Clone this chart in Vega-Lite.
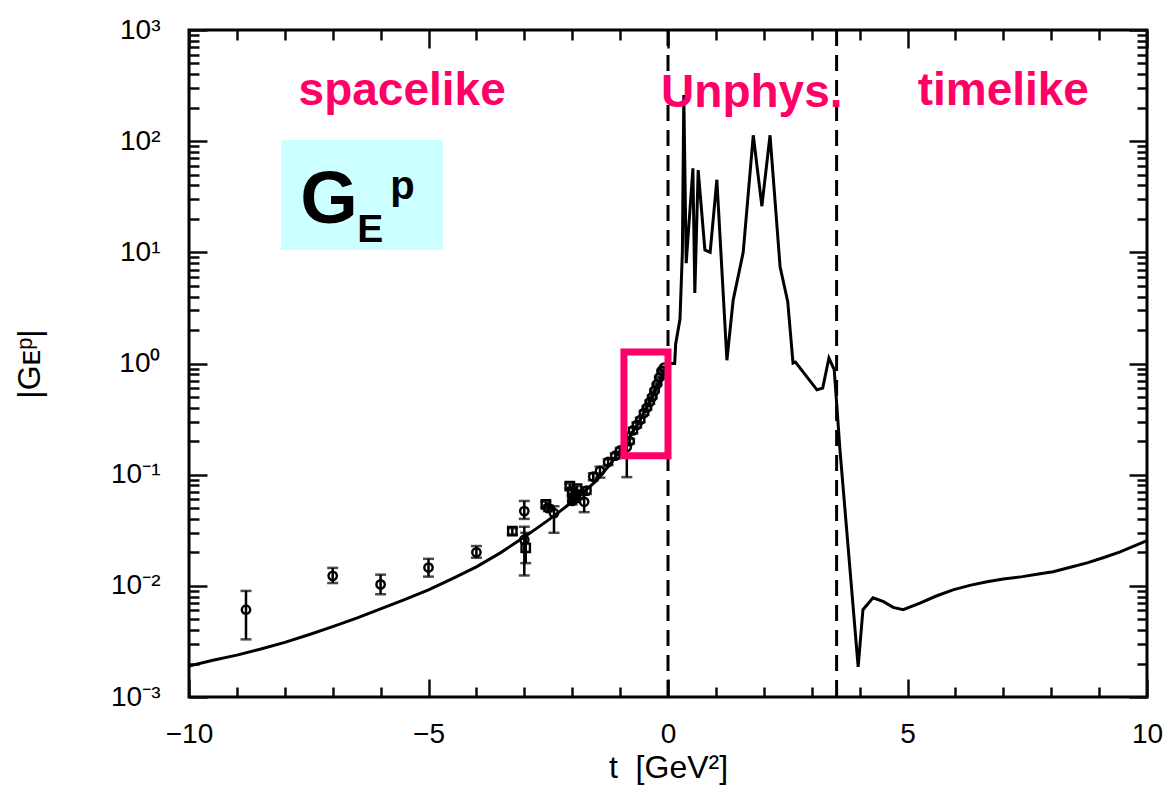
{
  "$schema": "https://vega.github.io/schema/vega-lite/v6.json",
  "autosize": "none",
  "width": 958,
  "height": 667,
  "padding": {"left": 189, "top": 30, "right": 24, "bottom": 91},
  "background": "white",
  "config": {
    "view": {"stroke": "black", "strokeWidth": 3},
    "font": "Liberation Sans",
    "axis": {
      "grid": false,
      "domain": false,
      "tickWidth": 2.5,
      "labelFlush": false,
      "labelOverlap": false,
      "labelColor": "black",
      "labelFont": "Liberation Sans",
      "labelFontSize": 28,
      "titleFont": "Liberation Sans",
      "titleFontWeight": "normal",
      "titleColor": "black"
    }
  },
  "datasets": {
    "curve": [
      {"t": -10, "v": 0.0019}, {"t": -9.5, "v": 0.00214}, {"t": -9, "v": 0.00238}, {"t": -8.5, "v": 0.0027},
      {"t": -8, "v": 0.0031}, {"t": -7.5, "v": 0.00363}, {"t": -7, "v": 0.0043}, {"t": -6.5, "v": 0.00513},
      {"t": -6, "v": 0.0062}, {"t": -5.5, "v": 0.0075}, {"t": -5, "v": 0.0092}, {"t": -4.5, "v": 0.0116},
      {"t": -4, "v": 0.0148}, {"t": -3.5, "v": 0.0198}, {"t": -3, "v": 0.0275}, {"t": -2.75, "v": 0.0327},
      {"t": -2.5, "v": 0.039}, {"t": -2.25, "v": 0.047}, {"t": -2, "v": 0.057}, {"t": -1.75, "v": 0.0703},
      {"t": -1.5, "v": 0.088}, {"t": -1.35, "v": 0.105}, {"t": -1.2, "v": 0.125}, {"t": -1, "v": 0.165},
      {"t": -0.9, "v": 0.19}, {"t": -0.8, "v": 0.22}, {"t": -0.7, "v": 0.257}, {"t": -0.6, "v": 0.30},
      {"t": -0.5, "v": 0.363}, {"t": -0.4, "v": 0.44}, {"t": -0.3, "v": 0.537}, {"t": -0.2, "v": 0.65},
      {"t": -0.1, "v": 0.80}, {"t": 0, "v": 1.0},
      {"t": 0.14, "v": 1.0}, {"t": 0.16, "v": 1.5}, {"t": 0.25, "v": 2.5}, {"t": 0.30, "v": 10},
      {"t": 0.33, "v": 260}, {"t": 0.38, "v": 8}, {"t": 0.52, "v": 57}, {"t": 0.56, "v": 4.3},
      {"t": 0.63, "v": 55}, {"t": 0.77, "v": 10.5}, {"t": 0.88, "v": 10}, {"t": 1.02, "v": 45},
      {"t": 1.23, "v": 1.07}, {"t": 1.36, "v": 3.7}, {"t": 1.57, "v": 10}, {"t": 1.78, "v": 113},
      {"t": 1.96, "v": 26}, {"t": 2.13, "v": 113}, {"t": 2.34, "v": 7.4}, {"t": 2.50, "v": 3.6},
      {"t": 2.61, "v": 1.01}, {"t": 2.66, "v": 1.03}, {"t": 3.11, "v": 0.58}, {"t": 3.23, "v": 0.6},
      {"t": 3.36, "v": 1.12}, {"t": 3.47, "v": 0.88}, {"t": 3.59, "v": 0.167}, {"t": 3.97, "v": 0.00187},
      {"t": 4.07, "v": 0.0061}, {"t": 4.28, "v": 0.0078}, {"t": 4.5, "v": 0.0072}, {"t": 4.7, "v": 0.0064},
      {"t": 4.91, "v": 0.0061}, {"t": 5.26, "v": 0.0070}, {"t": 5.6, "v": 0.0081}, {"t": 5.95, "v": 0.0092},
      {"t": 6.3, "v": 0.0101}, {"t": 6.66, "v": 0.0109}, {"t": 7.0, "v": 0.0115}, {"t": 7.4, "v": 0.0121},
      {"t": 7.7, "v": 0.0127}, {"t": 8.04, "v": 0.0134}, {"t": 8.4, "v": 0.0147}, {"t": 8.75, "v": 0.0161},
      {"t": 9.1, "v": 0.018}, {"t": 9.44, "v": 0.0202}, {"t": 9.7, "v": 0.0225}, {"t": 10, "v": 0.0255}
    ],
    "pts": [
      {"t": -8.81, "v": 0.0061, "lo": 0.0033, "hi": 0.0090, "kind": "a"},
      {"t": -7.0, "v": 0.0123, "lo": 0.0106, "hi": 0.0145, "kind": "a"},
      {"t": -6.0, "v": 0.0103, "lo": 0.0084, "hi": 0.0126, "kind": "a"},
      {"t": -5.0, "v": 0.0146, "lo": 0.0121, "hi": 0.0175, "kind": "a"},
      {"t": -4.0, "v": 0.0200, "lo": 0.0179, "hi": 0.0228, "kind": "a"},
      {"t": -3.25, "v": 0.031, "lo": 0.029, "hi": 0.033, "kind": "b"},
      {"t": -3.0, "v": 0.047, "lo": 0.040, "hi": 0.058, "kind": "a"},
      {"t": -3.0, "v": 0.026, "lo": 0.0124, "hi": 0.034, "kind": "a"},
      {"t": -2.97, "v": 0.022, "lo": 0.016, "hi": 0.030, "kind": "b"},
      {"t": -2.55, "v": 0.054, "lo": 0.051, "hi": 0.057, "kind": "b"},
      {"t": -2.5, "v": 0.050, "lo": 0.047, "hi": 0.053, "kind": "a"},
      {"t": -2.38, "v": 0.045, "lo": 0.030, "hi": 0.052, "kind": "a"},
      {"t": -2.05, "v": 0.079, "lo": 0.075, "hi": 0.083, "kind": "b"},
      {"t": -2.0, "v": 0.070, "lo": 0.066, "hi": 0.074, "kind": "b"},
      {"t": -1.95, "v": 0.062, "lo": 0.058, "hi": 0.066, "kind": "b"},
      {"t": -1.9, "v": 0.075, "lo": 0.071, "hi": 0.079, "kind": "b"},
      {"t": -1.85, "v": 0.066, "lo": 0.062, "hi": 0.070, "kind": "b"},
      {"t": -2.0, "v": 0.058, "lo": 0.054, "hi": 0.062, "kind": "a"},
      {"t": -1.75, "v": 0.057, "lo": 0.046, "hi": 0.066, "kind": "a"},
      {"t": -1.7, "v": 0.072, "lo": 0.067, "hi": 0.077, "kind": "a"},
      {"t": -1.56, "v": 0.096, "lo": 0.089, "hi": 0.103, "kind": "a"},
      {"t": -1.42, "v": 0.108, "lo": 0.094, "hi": 0.118, "kind": "a"},
      {"t": -1.25, "v": 0.13, "lo": 0.122, "hi": 0.138, "kind": "a"},
      {"t": -1.1, "v": 0.148, "lo": 0.14, "hi": 0.156, "kind": "a"},
      {"t": -1.0, "v": 0.165, "lo": 0.156, "hi": 0.174, "kind": "a"},
      {"t": -0.86, "v": 0.178, "lo": 0.095, "hi": 0.24, "kind": "a"},
      {"t": -0.8, "v": 0.20, "lo": 0.19, "hi": 0.21, "kind": "a"},
      {"t": -0.73, "v": 0.25, "lo": 0.235, "hi": 0.265, "kind": "a"},
      {"t": -0.65, "v": 0.28, "lo": 0.265, "hi": 0.295, "kind": "a"},
      {"t": -0.58, "v": 0.31, "lo": 0.295, "hi": 0.325, "kind": "a"},
      {"t": -0.5, "v": 0.36, "lo": 0.345, "hi": 0.375, "kind": "a"},
      {"t": -0.44, "v": 0.40, "lo": 0.385, "hi": 0.415, "kind": "a"},
      {"t": -0.38, "v": 0.45, "lo": 0.435, "hi": 0.465, "kind": "a"},
      {"t": -0.33, "v": 0.50, "lo": 0.485, "hi": 0.515, "kind": "a"},
      {"t": -0.28, "v": 0.57, "lo": 0.555, "hi": 0.585, "kind": "a"},
      {"t": -0.23, "v": 0.65, "lo": 0.635, "hi": 0.665, "kind": "a"},
      {"t": -0.18, "v": 0.75, "lo": 0.735, "hi": 0.765, "kind": "a"},
      {"t": -0.13, "v": 0.86, "lo": 0.845, "hi": 0.875, "kind": "a"},
      {"t": -0.08, "v": 0.92, "lo": 0.905, "hi": 0.935, "kind": "a"}
    ],
    "box": [{"t1": -8.08, "t2": -4.70, "v1": 10.5, "v2": 102.5}],
    "frame": [{"t1": -0.92, "t2": 0.0, "v1": 0.148, "v2": 1.27}],
    "regions": [
      {"label": "spacelike", "t": -5.55, "v": 212},
      {"label": "Unphys.", "t": 1.75, "v": 205},
      {"label": "timelike", "t": 7.0, "v": 212}
    ],
    "thresholds": [{"t": 0}, {"t": 3.52}]
  },
  "resolve": {"axis": {"x": "independent", "y": "independent"}},
  "layer": [
    {
      "data": {"name": "box"},
      "mark": {"type": "rect", "fill": "#ccffff", "stroke": null},
      "encoding": {
        "x": {"field": "t1", "type": "quantitative", "scale": {"domain": [-10, 10], "nice": false, "zero": false}, "axis": null},
        "x2": {"field": "t2"},
        "y": {"field": "v1", "type": "quantitative", "scale": {"type": "log", "domain": [0.001, 1000], "nice": false}, "axis": null},
        "y2": {"field": "v2"}
      }
    },
    {
      "data": {"name": "curve"},
      "mark": {"type": "line", "color": "black", "strokeWidth": 3, "clip": true},
      "encoding": {
        "x": {"field": "t", "type": "quantitative", "axis": {"orient": "bottom", "offset": -18, "ticks": true, "tickColor": "#0a0a0a", "tickSize": 18, "values": [-10, -5, 0, 5, 10], "labelPadding": 23, "labelExpr": "datum.value < 0 ? '\u2212' + abs(datum.value) : '' + datum.value", "title": "t\u00a0\u00a0[GeV\u00b2]", "titleFontSize": 32, "titlePadding": 4}},
        "y": {"field": "v", "type": "quantitative", "axis": {"orient": "left", "offset": -18, "ticks": true, "tickColor": "#0a0a0a", "tickSize": 18, "values": [0.001, 0.01, 0.1, 1, 10, 100, 1000], "labelPadding": 29, "labelExpr": "datum.value > 500 ? '10\u00b3' : datum.value > 50 ? '10\u00b2' : datum.value > 5 ? '10\u00b9' : datum.value > 0.5 ? '10\u2070' : datum.value > 0.05 ? '10\u207b\u00b9' : datum.value > 0.005 ? '10\u207b\u00b2' : '10\u207b\u00b3'", "title": "|G\u1d07\u1d56|", "titleFontSize": 32, "titlePadding": 64}}
      }
    },
    {
      "data": {"name": "pts"},
      "mark": {"type": "rule", "color": "black", "strokeWidth": 2.5},
      "encoding": {
        "x": {"field": "t", "type": "quantitative", "axis": {"orient": "bottom", "offset": -10, "ticks": true, "tickColor": "#0a0a0a", "tickSize": 10, "values": [-9, -8, -7, -6, -4, -3, -2, -1, 1, 2, 3, 4, 6, 7, 8, 9], "labels": false, "title": null}},
        "y": {"field": "lo", "type": "quantitative", "axis": {"orient": "left", "offset": -10, "ticks": true, "tickColor": "#0a0a0a", "tickSize": 10, "values": [0.002, 0.003, 0.004, 0.005, 0.006, 0.007, 0.008, 0.009, 0.02, 0.03, 0.04, 0.05, 0.06, 0.07, 0.08, 0.09, 0.2, 0.3, 0.4, 0.5, 0.6, 0.7, 0.8, 0.9, 2, 3, 4, 5, 6, 7, 8, 9, 20, 30, 40, 50, 60, 70, 80, 90, 200, 300, 400, 500, 600, 700, 800, 900], "labels": false, "title": null}},
        "y2": {"field": "hi"}
      }
    },
    {
      "data": {"name": "pts"},
      "mark": {"type": "tick", "orient": "horizontal", "color": "black", "size": 11, "thickness": 2.5},
      "encoding": {
        "x": {"field": "t", "type": "quantitative", "axis": {"orient": "top", "offset": -18, "ticks": true, "tickColor": "#0a0a0a", "tickSize": 18, "values": [-10, -5, 0, 5, 10], "labels": false, "title": null}},
        "y": {"field": "lo", "type": "quantitative", "axis": {"orient": "right", "offset": -18, "ticks": true, "tickColor": "#0a0a0a", "tickSize": 18, "values": [0.001, 0.01, 0.1, 1, 10, 100, 1000], "labels": false, "title": null}}
      }
    },
    {
      "data": {"name": "pts"},
      "mark": {"type": "tick", "orient": "horizontal", "color": "black", "size": 11, "thickness": 2.5},
      "encoding": {
        "x": {"field": "t", "type": "quantitative", "axis": {"orient": "top", "offset": -10, "ticks": true, "tickColor": "#0a0a0a", "tickSize": 10, "values": [-9, -8, -7, -6, -4, -3, -2, -1, 1, 2, 3, 4, 6, 7, 8, 9], "labels": false, "title": null}},
        "y": {"field": "hi", "type": "quantitative", "axis": {"orient": "right", "offset": -10, "ticks": true, "tickColor": "#0a0a0a", "tickSize": 10, "values": [0.002, 0.003, 0.004, 0.005, 0.006, 0.007, 0.008, 0.009, 0.02, 0.03, 0.04, 0.05, 0.06, 0.07, 0.08, 0.09, 0.2, 0.3, 0.4, 0.5, 0.6, 0.7, 0.8, 0.9, 2, 3, 4, 5, 6, 7, 8, 9, 20, 30, 40, 50, 60, 70, 80, 90, 200, 300, 400, 500, 600, 700, 800, 900], "labels": false, "title": null}}
      }
    },
    {
      "data": {"name": "pts"},
      "mark": {"type": "point", "filled": false, "color": "black", "strokeWidth": 2.4, "opacity": 1},
      "encoding": {
        "x": {"field": "t", "type": "quantitative", "axis": null},
        "y": {"field": "v", "type": "quantitative", "axis": null},
        "shape": {"field": "kind", "type": "nominal", "scale": {"domain": ["a", "b"], "range": ["circle", "square"]}, "legend": null},
        "size": {"value": 70}
      }
    },
    {
      "data": {"name": "thresholds"},
      "mark": {"type": "rule", "color": "black", "strokeWidth": 3, "strokeDash": [16, 9]},
      "encoding": {
        "x": {"field": "t", "type": "quantitative", "axis": null}
      }
    },
    {
      "data": {"name": "frame"},
      "mark": {"type": "rect", "fill": null, "stroke": "#ff0066", "strokeWidth": 7},
      "encoding": {
        "x": {"field": "t1", "type": "quantitative", "axis": null},
        "x2": {"field": "t2"},
        "y": {"field": "v1", "type": "quantitative", "axis": null},
        "y2": {"field": "v2"}
      }
    },
    {
      "data": {"name": "regions"},
      "mark": {"type": "text", "color": "#ff0066", "font": "Liberation Sans", "fontWeight": "bold", "fontSize": 46, "align": "center", "baseline": "alphabetic"},
      "encoding": {
        "x": {"field": "t", "type": "quantitative", "axis": null},
        "y": {"field": "v", "type": "quantitative", "axis": null},
        "text": {"field": "label"}
      }
    },
    {
      "data": {"values": [{"s": "G", "t": -7.68, "v": 18.4}]},
      "mark": {"type": "text", "color": "black", "font": "Liberation Sans", "fontWeight": "bold", "fontSize": 74, "align": "left", "baseline": "alphabetic"},
      "encoding": {
        "x": {"field": "t", "type": "quantitative", "axis": null},
        "y": {"field": "v", "type": "quantitative", "axis": null},
        "text": {"field": "s"}
      }
    },
    {
      "data": {"values": [{"s": "E", "t": -6.49, "v": 12.4}]},
      "mark": {"type": "text", "color": "black", "font": "Liberation Sans", "fontWeight": "bold", "fontSize": 39, "align": "left", "baseline": "alphabetic"},
      "encoding": {
        "x": {"field": "t", "type": "quantitative", "axis": null},
        "y": {"field": "v", "type": "quantitative", "axis": null},
        "text": {"field": "s"}
      }
    },
    {
      "data": {"values": [{"s": "p", "t": -5.80, "v": 30}]},
      "mark": {"type": "text", "color": "black", "font": "Liberation Sans", "fontWeight": "bold", "fontSize": 40, "align": "left", "baseline": "alphabetic"},
      "encoding": {
        "x": {"field": "t", "type": "quantitative", "axis": null},
        "y": {"field": "v", "type": "quantitative", "axis": null},
        "text": {"field": "s"}
      }
    }
  ]
}
